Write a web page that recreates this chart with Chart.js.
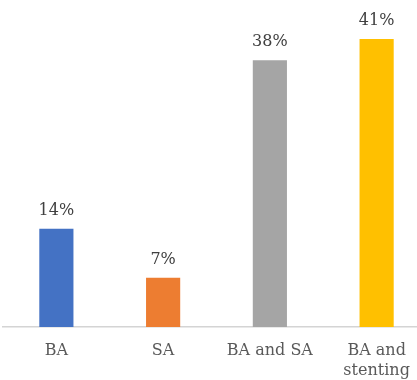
<!DOCTYPE html>
<html>
<head>
<meta charset="utf-8">
<script src="https://cdn.jsdelivr.net/npm/chart.js@4"></script>
<style>
html,body{margin:0;padding:0;background:#fff;overflow:hidden;}
#wrap{width:430px;height:395px;position:relative;}
</style>
</head>
<body>
<div id="wrap"><canvas id="c"></canvas></div>
<script>
const categories = [["BA"], ["SA"], ["BA and SA"], ["BA and", "stenting"]];
const values = [14, 7, 38, 41];
const valueLabels = ["14%", "7%", "38%", "41%"];
const colors = ["#4472C4", "#ED7D31", "#A5A5A5", "#FFC000"];

const fontFamily = "'DejaVu Serif', serif";

const labelPlugin = {
  id: 'valueLabels',
  afterDatasetsDraw(chart) {
    const ctx = chart.ctx;
    const meta = chart.getDatasetMeta(0);
    ctx.save();
    ctx.font = "16px " + fontFamily;
    ctx.fillStyle = "#404040";
    ctx.textAlign = "center";
    ctx.textBaseline = "middle";
    meta.data.forEach((bar, i) => {
      ctx.fillText(valueLabels[i], bar.x, bar.y - 18);
    });
    ctx.restore();
  }
};

new Chart(document.getElementById('c'), {
  type: 'bar',
  data: {
    labels: categories,
    datasets: [{
      data: values,
      backgroundColor: colors,
      borderWidth: 0,
      categoryPercentage: 1,
      barPercentage: 0.32
    }]
  },
  options: {
    responsive: true,
    maintainAspectRatio: false,
    animation: false,
    layout: { padding: { left: 3, right: 0, top: 11, bottom: 0 } },
    plugins: { legend: { display: false }, tooltip: { enabled: false } },
    scales: {
      x: {
        grid: { display: false, drawTicks: false },
        border: { display: true, color: "#d4d4d4", width: 1.5 },
        ticks: {
          color: "#595959",
          padding: 14,
          font: { family: fontFamily, size: 16, lineHeight: 1.25 },
          maxRotation: 0, autoSkip: false
        }
      },
      y: {
        display: false,
        min: 0,
        max: 45
      }
    }
  },
  plugins: [labelPlugin]
});
</script>
</body>
</html>
